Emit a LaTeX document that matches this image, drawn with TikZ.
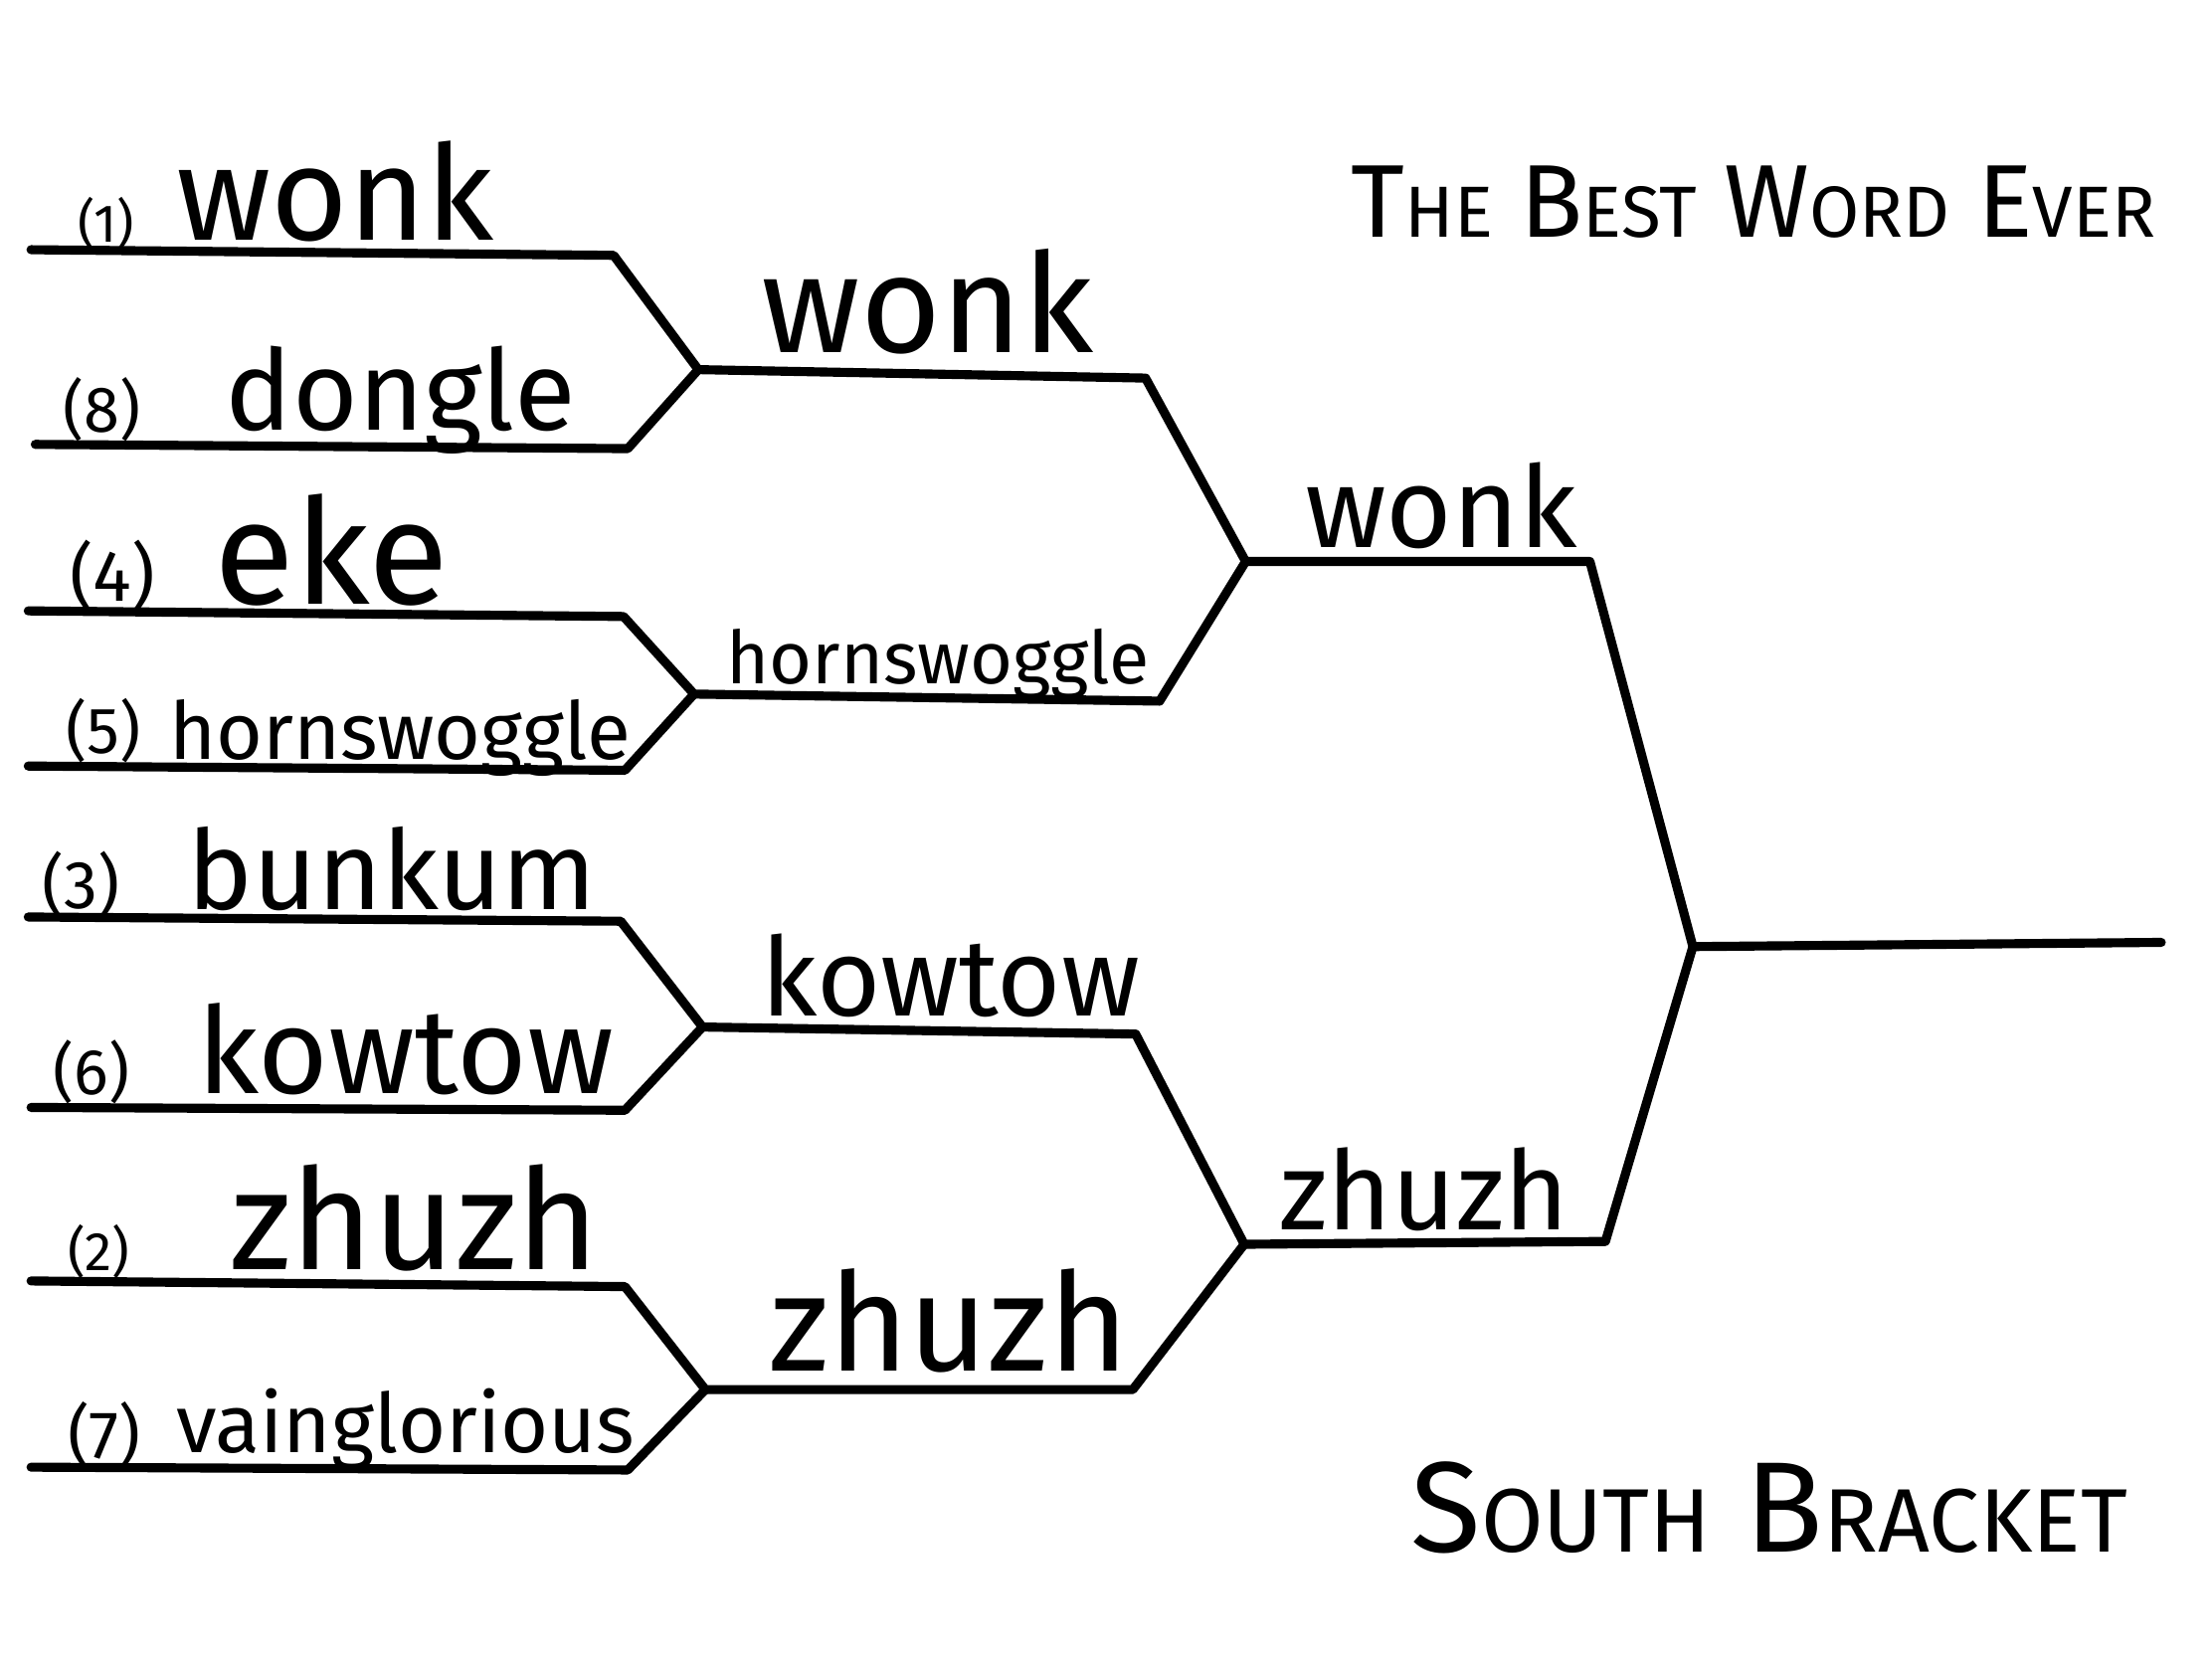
\documentclass[tikz,border=0pt]{standalone}
\usepackage{fontspec}
\usepackage{graphicx}
\setmainfont{Fira Sans}
\newlength\unitpx
\setlength\unitpx{0.014184cm}
\newcommand\fitw[2]{\resizebox{#1\unitpx}{!}{#2}}
\newcommand\fsc[2]{#1\scalebox{0.7}{#2}}
\begin{document}
\begin{tikzpicture}[x=0.014184cm,y=-0.014184cm,
  bline/.style={line width=2.6pt,line join=round,line cap=round,black},
  word/.style={anchor=base west,inner sep=0pt,outer sep=0pt,font=\fontsize{40}{40}\selectfont}]
\useasboundingbox[fill=white] (0,0) rectangle (1568,1176);
% coordinates
\coordinate (a1) at (22,177);  \coordinate (a2) at (435,181);
\coordinate (b1) at (25,315);  \coordinate (b2) at (445,318);
\coordinate (m1) at (495,262);
\coordinate (w2) at (812,268);
\coordinate (c1) at (20,433);  \coordinate (c2) at (442,437);
\coordinate (d1) at (20,543);  \coordinate (d2) at (443,546);
\coordinate (m3) at (492,492);
\coordinate (h2) at (822,497);
\coordinate (m2) at (883,398);
\coordinate (r1) at (1127,398);
\coordinate (e1) at (20,650);  \coordinate (e2) at (440,653);
\coordinate (g1) at (22,785);  \coordinate (g2) at (443,787);
\coordinate (m4) at (498,728);
\coordinate (k2) at (805,733);
\coordinate (i1) at (22,908);  \coordinate (i2) at (443,912);
\coordinate (j1) at (22,1040); \coordinate (j2) at (445,1042);
\coordinate (m6) at (500,985);
\coordinate (z2) at (803,985);
\coordinate (m5) at (882,882);
\coordinate (r2) at (1138,880);
\coordinate (f) at (1200,671);
\coordinate (fe) at (1532,668);
% lines
\draw[bline] (a1) -- (a2) -- (m1) -- (w2) -- (m2) -- (r1) -- (f) -- (fe);
\draw[bline] (b1) -- (b2) -- (m1);
\draw[bline] (c1) -- (c2) -- (m3) -- (h2) -- (m2);
\draw[bline] (d1) -- (d2) -- (m3);
\draw[bline] (e1) -- (e2) -- (m4) -- (k2) -- (m5) -- (r2) -- (f);
\draw[bline] (g1) -- (g2) -- (m4);
\draw[bline] (i1) -- (i2) -- (m6) -- (z2) -- (m5);
\draw[bline] (j1) -- (j2) -- (m6);
% seeds
\node[word] (s1) at (55,172) {\fitw{40}{(1)}};
\node[word] (s8) at (45,306) {\fitw{55}{(8)}};
\node[word] (s4) at (50,426) {\fitw{60}{(4)}};
\node[word] (s5) at (47,534) {\fitw{53}{(5)}};
\node[word] (s3) at (30,644) {\fitw{55}{(3)}};
\node[word] (s6) at (38,776) {\fitw{54}{(6)}};
\node[word] (s2) at (48,901) {\fitw{44}{(2)}};
\node[word] (s7) at (48,1034) {\fitw{52}{(7)}};
% round 1
\node[word] (t1) at (125,170) {\fitw{225}{wonk}};
\node[word] (t8) at (160,305) {\fitw{248}{dongle}};
\node[word] (t4) at (152,428) {\fitw{166}{eke}};
\node[word] (t5) at (120,538) {\fitw{327}{hornswoggle}};
\node[word] (t3) at (133,645) {\fitw{290}{bunkum}};
\node[word] (t6) at (140,775) {\fitw{295}{kowtow}};
\node[word] (t2) at (163,900) {\fitw{262}{zhuzh}};
\node[word] (t7) at (125,1030) {\fitw{325}{vainglorious}};
% round 2
\node[word] (u1) at (540,250) {\fitw{235}{wonk}};
\node[word] (u2) at (515,485) {\fitw{300}{hornswoggle}};
\node[word] (u3) at (540,720) {\fitw{268}{kowtow}};
\node[word] (u4) at (545,972) {\fitw{255}{zhuzh}};
% round 3
\node[word] (v1) at (925,388) {\fitw{193}{wonk}};
\node[word] (v2) at (907,872) {\fitw{205}{zhuzh}};
% titles
\node[word] (title) at (958,168) {\fitw{570}{\fsc{T}{HE} \fsc{B}{EST} \fsc{W}{ORD} \fsc{E}{VER}}};
\node[word] (south) at (1000,1100) {\fitw{508}{\fsc{S}{OUTH} \fsc{B}{RACKET}}};
\end{tikzpicture}
\end{document}
